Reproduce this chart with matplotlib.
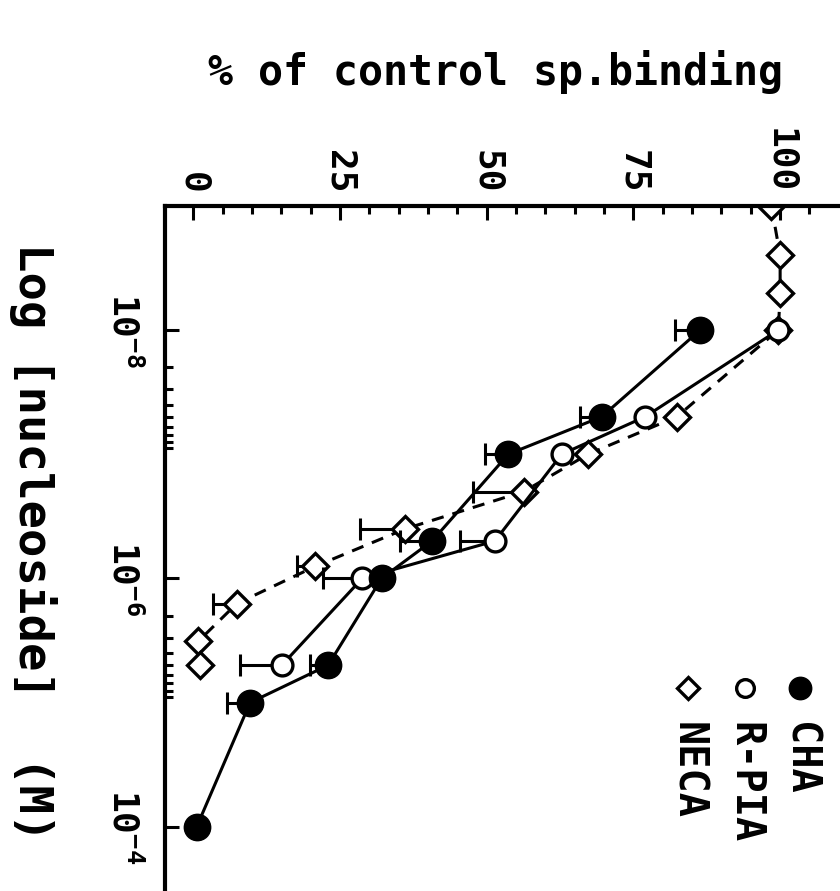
import matplotlib
matplotlib.use('Agg')
import matplotlib.pyplot as plt
from matplotlib.lines import Line2D
import numpy as np

plt.rcParams['font.family'] = 'DejaVu Sans Mono'
plt.rcParams['font.weight'] = 'bold'
plt.rcParams['mathtext.fontset'] = 'custom'
plt.rcParams['mathtext.rm'] = 'DejaVu Sans Mono:bold'
plt.rcParams['mathtext.default'] = 'rm'

# nucleoside concentration (M), % of control specific binding, lower error
cha_conc = [1e-8, 5e-8, 1e-7, 5e-7, 1e-6, 5e-6, 1e-5, 1e-4]
cha_pct = [86.4, 69.6, 53.7, 40.7, 32.1, 23.0, 9.7, 0.6]
cha_err = [4.3, 3.7, 4.0, 5.4, 0, 3.1, 4.0, 0]

rpia_conc = [1e-8, 5e-8, 1e-7, 5e-7, 1e-6, 5e-6]
rpia_pct = [99.7, 77.0, 62.8, 51.4, 28.8, 15.1]
rpia_err = [0, 0, 0, 6.0, 6.6, 7.1]

neca_conc = [1e-9, 2.5e-9, 5e-9, 1e-8, 5e-8, 1e-7, 2e-7, 4e-7, 8e-7, 1.6e-6, 3.2e-6, 5e-6]
neca_pct = [98.5, 100, 100, 99.7, 82.4, 67.3, 56.3, 36.1, 20.8, 7.4, 0.9, 1.2]
neca_err = [0, 0, 0, 0, 0, 0, 8.7, 7.7, 3.1, 4.0, 0, 0]

names = ['CHA', 'R-PIA', 'NECA']
pct_ticks = [0, 25, 50, 75, 100]
conc_ticks = [1e-8, 1e-6, 1e-4]
conc_labels = [r'$10^{-8}$', r'$10^{-6}$', r'$10^{-4}$']

W, H = 840, 891
fig = plt.figure(figsize=(W / 100, H / 100), dpi=100)
ax = fig.add_axes([165 / W, 0, 1 - 165 / W, 1 - 206 / H])

LW = 2.2
styles = {
    'CHA': dict(marker='o', ms=19, mfc='black', mec='black', mew=1),
    'R-PIA': dict(marker='o', ms=15, mfc='white', mec='black', mew=2.4),
    'NECA': dict(marker='D', ms=13.5, mfc='white', mec='black', mew=2.4),
}


def draw(conc, pct, err, name, ls, z):
    conc = np.array(conc)
    pct = np.array(pct)
    err = np.array(err)
    m = err > 0
    ax.errorbar(pct[m], conc[m], xerr=[err[m], np.zeros(m.sum())], fmt='none',
                ecolor='black', elinewidth=LW, capsize=8, capthick=LW, zorder=z)
    ax.plot(pct, conc, color='black', lw=LW, zorder=z + 0.5, **styles[name],
            **ls)


draw(neca_conc, neca_pct, neca_err, 'NECA', dict(ls=(0, (4, 3))), 2)
draw(rpia_conc, rpia_pct, rpia_err, 'R-PIA', dict(ls='-'), 3)
draw(cha_conc, cha_pct, cha_err, 'CHA', dict(ls='-'), 4)

ax.set_xlim(-4.8, 110.2)
ax.set_yscale('log')
ax.set_ylim(10 ** -3.483, 10 ** -8.998)

for s in ['right', 'bottom']:
    ax.spines[s].set_visible(False)
for s in ['left', 'top']:
    ax.spines[s].set_linewidth(3)

ax.xaxis.set_ticks_position('top')
ax.set_xticks(pct_ticks)
ax.set_xticks([v for v in range(5, 110, 5) if v % 25], minor=True)
ax.tick_params(axis='x', which='both', direction='in', top=True, bottom=False,
               labeltop=True, labelbottom=False, labelrotation=-90,
               labelsize=26, pad=9, width=2.2)
ax.tick_params(axis='x', which='major', length=10)
ax.tick_params(axis='x', which='minor', length=6)

ax.set_yticks(conc_ticks)
ax.set_yticklabels(conc_labels, va='center')
minor_y = [k * 10.0 ** d for d in (-8, -6) for k in range(2, 10)]
ax.yaxis.set_minor_locator(matplotlib.ticker.FixedLocator(minor_y))
ax.yaxis.set_minor_formatter(matplotlib.ticker.NullFormatter())
ax.tick_params(axis='y', which='both', direction='in', left=True, right=False,
               labelrotation=-90, labelsize=26, pad=17, width=2.2)
ax.tick_params(axis='y', which='major', length=10)
ax.tick_params(axis='y', which='minor', length=6)
for t in ax.get_yticklabels():
    t.set_va('center')

fig.text(495 / W, 1 - 85 / H, '% of control sp.binding', ha='center',
         va='baseline', fontsize=30)
fig.text(33 / W, 1 - 542 / H, 'Log [nucleoside]  (M)', ha='center',
         va='center', rotation=-90, fontsize=34)

# legend, drawn turned like the rest of the plot
leg_x = [800, 745, 688]
for name, x in zip(names, leg_x):
    st = dict(styles[name])
    st['ms'] = st['ms'] * 0.85
    fig.add_artist(Line2D([x / W], [1 - 688 / H], transform=fig.transFigure,
                          ls='none', **st))
    fig.text(x / W, 1 - 722 / H, name, ha='center', va='top', rotation=-90,
             fontsize=29)

fig.savefig('out.png', dpi=100, facecolor='white')
